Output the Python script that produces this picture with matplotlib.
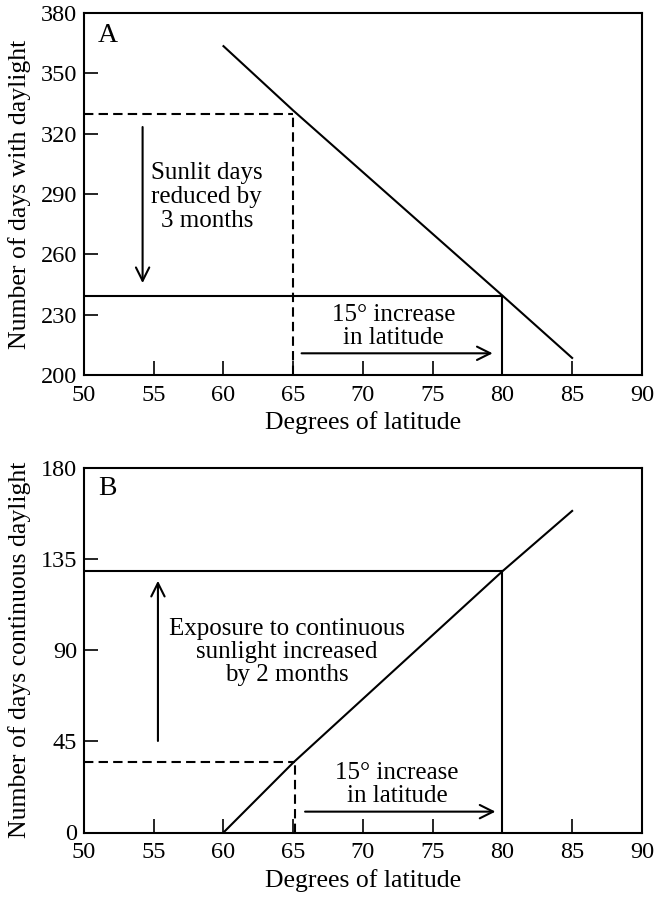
import matplotlib
matplotlib.use("Agg")
import matplotlib.pyplot as plt

plt.rcParams['font.family'] = ['Liberation Serif', 'DejaVu Serif']

# ---- Data ----
xticks = [50, 55, 60, 65, 70, 75, 80, 85, 90]

# Panel A: days with daylight vs latitude
lat_A = [60, 65, 80, 85]
days_A = [363.5, 331.5, 239.5, 208.5]
yticks_A = [200, 230, 260, 290, 320, 350, 380]
ref_lat_A = [65, 80]
ref_days_A = [330, 239.3]

# Panel B: days of continuous daylight vs latitude
lat_B = [60, 65, 80, 85]
days_B = [0, 34.5, 129.0, 158.8]
yticks_B = [0, 45, 90, 135, 180]
ref_lat_B = [65.1, 80]
ref_days_B = [34.7, 129.0]

TFS = 17.5   # tick labels
LFS = 18.5   # axis labels
AFS = 18     # annotations
lw = 1.5
dash = (0, (4.5, 2.5))

fig = plt.figure(figsize=(6.59, 9.0), dpi=100)
axA = fig.add_axes([0.1275, 0.5833, 0.8465, 0.4023])
axB = fig.add_axes([0.1275, 0.075, 0.8465, 0.405])

def style(ax, ylim, yticks, ylabel):
    ax.set_xlim(50, 90)
    ax.set_ylim(*ylim)
    ax.set_xticks(xticks)
    ax.set_yticks(yticks)
    ax.tick_params(direction='in', length=10, width=1.2, labelsize=TFS,
                   top=False, right=False)
    ax.tick_params(axis='x', pad=7)
    ax.tick_params(axis='y', pad=5)
    for s in ax.spines.values():
        s.set_linewidth(1.5)
    ax.set_xlabel('Degrees of latitude', fontsize=LFS, labelpad=4)
    ax.set_ylabel(ylabel, fontsize=LFS, va='center')
    ax.yaxis.set_label_coords(-0.116, 0.5)

arrow_kw = dict(arrowstyle='->', lw=1.5, color='black',
                mutation_scale=24, shrinkA=0, shrinkB=0)

# ---- Panel A ----
style(axA, (200, 380), yticks_A, 'Number of days with daylight')
axA.plot(lat_A, days_A, color='black', lw=lw)
axA.plot([50, ref_lat_A[0]], [ref_days_A[0], ref_days_A[0]], color='black', lw=lw, ls=dash)
axA.plot([ref_lat_A[0], ref_lat_A[0]], [200, ref_days_A[0]], color='black', lw=lw, ls=dash)
axA.plot([50, ref_lat_A[1]], [ref_days_A[1], ref_days_A[1]], color='black', lw=lw)
axA.plot([ref_lat_A[1], ref_lat_A[1]], [200, ref_days_A[1]], color='black', lw=lw)
axA.annotate('', xy=(54.2, 245.7), xytext=(54.2, 323.3), arrowprops=arrow_kw)
axA.annotate('', xy=(79.3, 210.8), xytext=(65.6, 210.8), arrowprops=arrow_kw)
axA.text(58.8, 288.5, 'Sunlit days\nreduced by\n3 months', ha='center', va='center',
         fontsize=AFS, linespacing=1.12)
axA.text(72.2, 224.1, '15° increase\nin latitude', ha='center', va='center',
         fontsize=AFS, linespacing=1.05)
axA.text(51.0, 369, 'A', ha='left', va='center', fontsize=20)

# ---- Panel B ----
style(axB, (0, 180), yticks_B, 'Number of days continuous daylight')
axB.plot(lat_B, days_B, color='black', lw=lw)
axB.plot([50, ref_lat_B[0]], [ref_days_B[0], ref_days_B[0]], color='black', lw=lw, ls=dash)
axB.plot([ref_lat_B[0], ref_lat_B[0]], [0, ref_days_B[0]], color='black', lw=lw, ls=dash)
axB.plot([50, ref_lat_B[1]], [ref_days_B[1], ref_days_B[1]], color='black', lw=lw)
axB.plot([ref_lat_B[1], ref_lat_B[1]], [0, ref_days_B[1]], color='black', lw=lw)
axB.annotate('', xy=(55.3, 124.3), xytext=(55.3, 45.2), arrowprops=arrow_kw)
axB.annotate('', xy=(79.5, 10.3), xytext=(65.85, 10.3), arrowprops=arrow_kw)
axB.text(64.57, 89.3, 'Exposure to continuous\nsunlight increased\nby 2 months', ha='center',
         va='center', fontsize=AFS, linespacing=1.05)
axB.text(72.45, 23.5, '15° increase\nin latitude', ha='center', va='center',
         fontsize=AFS, linespacing=1.05)
axB.text(51.0, 170.1, 'B', ha='left', va='center', fontsize=20)

fig.savefig('out.png', dpi=100)
